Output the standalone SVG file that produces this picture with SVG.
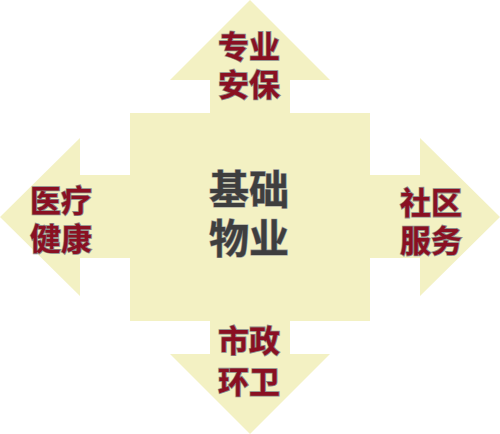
<svg xmlns="http://www.w3.org/2000/svg" width="500" height="434" viewBox="0 0 500 434">
<style>
.shape{fill:#F3F1C3;}
.lbl{font-family:"Noto Sans CJK SC","Noto Sans",sans-serif;font-weight:bold;font-size:31px;fill:#8A1022;stroke:#8a8a8a;stroke-width:1.6;paint-order:stroke;text-anchor:middle;dominant-baseline:central;}
.main{font-family:"Noto Sans CJK SC","Noto Sans",sans-serif;font-weight:bold;font-size:40px;fill:#3E3E3E;stroke:#9a9a9a;stroke-width:1.2;paint-order:stroke;text-anchor:middle;dominant-baseline:central;}
</style>
<rect width="500" height="434" fill="#FFFFFF"/>
<g id="connectors"></g>
<g id="arrow-top">
<polygon class="shape" points="250,0 330,80 290,80 290,114 210,114 210,80 170,80"/>
<text class="lbl"><tspan x="249" y="44">专业</tspan><tspan x="249" y="82">安保</tspan></text>
</g>
<g id="arrow-left">
<polygon class="shape" points="0,217 80,138 80,175 131,175 131,258 80,258 80,296"/>
<text class="lbl"><tspan x="61" y="198">医疗</tspan><tspan x="61" y="236">健康</tspan></text>
</g>
<g id="arrow-right">
<polygon class="shape" points="500,217 420,138 420,175 369,175 369,258 420,258 420,296"/>
<text class="lbl"><tspan x="431" y="200">社区</tspan><tspan x="431" y="238">服务</tspan></text>
</g>
<g id="arrow-bottom">
<polygon class="shape" points="250,434 330,354 290,354 290,320 210,320 210,354 170,354"/>
<text class="lbl"><tspan x="249" y="338">市政</tspan><tspan x="249" y="379">环卫</tspan></text>
</g>
<g id="center">
<rect class="shape" x="130" y="113" width="240" height="208"/>
<text class="main"><tspan x="249" y="187">基础</tspan><tspan x="249" y="236">物业</tspan></text>
</g>
</svg>
